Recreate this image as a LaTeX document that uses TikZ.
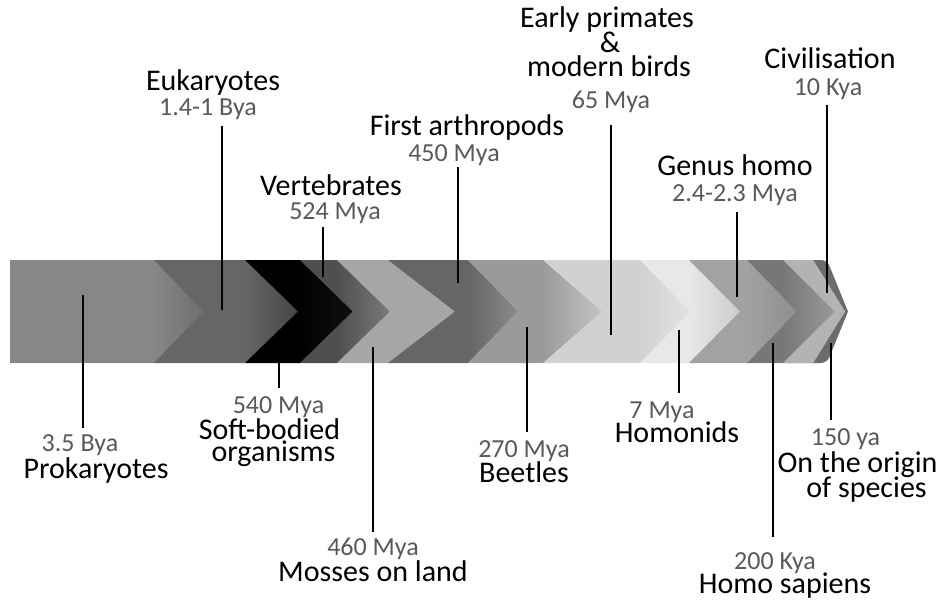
\documentclass[tikz,border=0pt]{standalone}
\usepackage{fontspec}
\setmainfont{Carlito}
\definecolor{dategray}{HTML}{595959}
\definecolor{sa}{HTML}{878787}\definecolor{sb}{HTML}{6E6E6E}
\definecolor{sc}{HTML}{666666}\definecolor{sd}{HTML}{464646}
\definecolor{se}{HTML}{000000}\definecolor{sf}{HTML}{101010}
\definecolor{sg}{HTML}{4F4F4F}\definecolor{sh}{HTML}{7A7A7A}
\definecolor{si}{HTML}{A6A6A6}\definecolor{sj}{HTML}{A6A6A6}
\definecolor{sk}{HTML}{666666}\definecolor{sl}{HTML}{8A8A8A}
\definecolor{sm}{HTML}{9A9A9A}\definecolor{sn}{HTML}{C4C4C4}
\definecolor{so}{HTML}{D1D1D1}\definecolor{sp}{HTML}{E2E2E2}
\definecolor{sq}{HTML}{E8E8E8}\definecolor{sr}{HTML}{CCCCCC}
\definecolor{ss}{HTML}{A2A2A2}\definecolor{st}{HTML}{8E8E8E}
\definecolor{su}{HTML}{777777}\definecolor{sv}{HTML}{9A9A9A}
\definecolor{sw}{HTML}{B3B3B3}\definecolor{sx}{HTML}{B3B3B3}
\definecolor{shadowgray}{HTML}{6B6B6B}
\newcommand\chevseg[6]{%
  \fill[#5] (#1,260) -- (#3,260) -- (#4,311.5) -- (#3,363) -- (#1,363) -- (#2,311.5) -- cycle;
  \begin{scope}
    \clip (#1,260) -- (#3,260) -- (#4,311.5) -- (#3,363) -- (#1,363) -- (#2,311.5) -- cycle;
    \shade[left color=#5, right color=#6] (#3,259) rectangle (#4,364);
  \end{scope}}
% one centred line of an event label, optionally moved right by #1
\newcommand\tline[2][0pt]{\moveright#1\hbox to 0pt{\hss#2\hss}}
% gap between consecutive baselines
\newcommand\gapv[1]{\vskip#1\relax}
\newcommand\evstack[1]{\vtop{\baselineskip=0pt\lineskiplimit=-1000pt\lineskip=0pt\relax #1}}
\newcommand\dt[1]{{\color{dategray}\fontsize{26}{26}\selectfont #1}}
\tikzset{
  ev/.style={inner sep=0pt, anchor=base, font=\fontsize{30}{30}\selectfont},
  tick/.style={draw=black, line width=1.8pt}
}
\begin{document}
\begin{tikzpicture}[x=1pt,y=-1pt]
\useasboundingbox (0,0) rectangle (946,600);
% band
\fill[shadowgray] (783,260) [rounded corners=6pt] -- (827,260) [sharp corners] -- (848,311.5) [rounded corners=6pt] -- (827,363) [sharp corners] -- (783,363) -- cycle;
\chevseg{10}{10}{154}{203}{sa}{sb}
\chevseg{154}{203}{245}{298}{sc}{sd}
\chevseg{245}{298}{300}{353}{se}{sf}
\chevseg{300}{353}{337}{390}{sg}{sh}
\chevseg{337}{390}{388}{455}{si}{sj}
\chevseg{388}{455}{468}{518}{sk}{sl}
\chevseg{468}{518}{543}{602}{sm}{sn}
\chevseg{543}{602}{640}{690}{so}{sp}
\chevseg{640}{690}{689}{740}{sq}{sr}
\chevseg{689}{740}{747}{797}{ss}{st}
\chevseg{747}{797}{783}{835}{su}{sv}
\chevseg{783}{835}{813}{845}{sw}{sx}
% labels above the band
\node[ev] (euk) at (213,90) {\evstack{\tline{Eukaryotes}\gapv{25pt}\tline[-5pt]{\dt{1.4-1 Bya}}}};
\node[ev] (vert) at (333,195) {\evstack{\tline{Vertebrates}\gapv{24pt}\tline[4pt]{\dt{524 Mya}}}};
\node[ev] (arth) at (467,135) {\evstack{\tline{First arthropods}\gapv{26pt}\tline[-13pt]{\dt{450 Mya}}}};
\node[ev] (prim) at (609,27) {\evstack{\tline{Early primates}\gapv{25pt}\tline[3pt]{\&}\gapv{24pt}\tline[2pt]{modern birds}\gapv{32pt}\tline[4pt]{\dt{65 Mya}}}};
\node[ev] (civ) at (830,68) {\evstack{\tline{Civilisation}\gapv{27pt}\tline[-2pt]{\dt{10 Kya}}}};
\node[ev] (gen) at (735,175) {\evstack{\tline{Genus homo}\gapv{26pt}\tline{\dt{2.4-2.3 Mya}}}};
% labels below the band
\node[ev] (prok) at (96,451) {\evstack{\tline[-16pt]{\dt{3.5 Bya}}\gapv{27pt}\tline{Prokaryotes}}};
\node[ev] (soft) at (276,413) {\evstack{\tline[5pt]{\dt{540 Mya}}\gapv{26pt}\tline[-4pt]{Soft-bodied}\gapv{22pt}\tline{organisms}}};
\node[ev] (moss) at (373,555) {\evstack{\tline{\dt{460 Mya}}\gapv{26pt}\tline{Mosses on land}}};
\node[ev] (beet) at (524,457) {\evstack{\tline{\dt{270 Mya}}\gapv{25pt}\tline{Beetles}}};
\node[ev] (hom) at (677,418) {\evstack{\tline[-15pt]{\dt{7 Mya}}\gapv{24pt}\tline{Homonids}}};
\node[ev] (sap) at (785,569) {\evstack{\tline[-10pt]{\dt{200 Kya}}\gapv{24pt}\tline{Homo sapiens}}};
\node[ev] (orig) at (862,445) {\evstack{\tline[-12pt]{\dt{150 ya}}\gapv{27pt}\tline{On the origin}\gapv{25pt}\tline[9pt]{of species}}};
% tick coordinates
\coordinate (eukA) at (222,126);  \coordinate (eukB) at (222,310);
\coordinate (vertA) at (323,227); \coordinate (vertB) at (323,277);
\coordinate (arthA) at (458,167); \coordinate (arthB) at (458,283);
\coordinate (primA) at (611,125); \coordinate (primB) at (611,335);
\coordinate (genA) at (737,212);  \coordinate (genB) at (737,297);
\coordinate (civA) at (827,105);  \coordinate (civB) at (827,293);
\coordinate (prokA) at (83,295);  \coordinate (prokB) at (83,428);
\coordinate (softA) at (279,345); \coordinate (softB) at (279,388);
\coordinate (mossA) at (373,347); \coordinate (mossB) at (373,532);
\coordinate (beetA) at (527,327); \coordinate (beetB) at (527,432);
\coordinate (homA) at (679,330);  \coordinate (homB) at (679,393);
\coordinate (sapA) at (773,343);  \coordinate (sapB) at (773,537);
\coordinate (origA) at (831,343); \coordinate (origB) at (831,420);
\foreach \t in {euk,vert,arth,prim,gen,civ,prok,soft,moss,beet,hom,sap,orig}
  \draw[tick] (\t A) -- (\t B);
\end{tikzpicture}
\end{document}
